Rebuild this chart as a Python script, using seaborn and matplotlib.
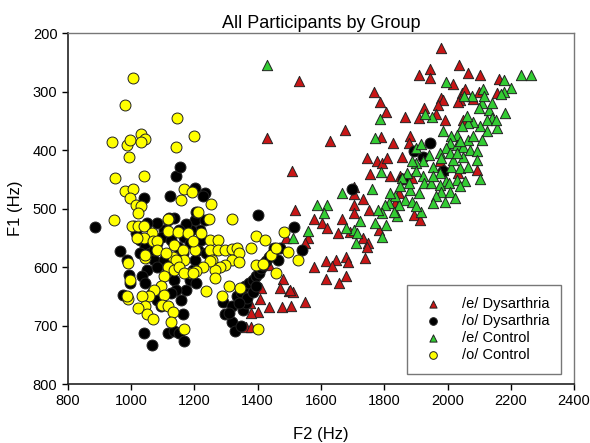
import numpy as np
import pandas as pd
import matplotlib
matplotlib.use("Agg")
import matplotlib.pyplot as plt
import seaborn as sns

# /e/ Dysarthria (F2, F1)
e_dys_f2 = [1980, 2037, 1946, 2066, 2104, 1910, 1945, 2163, 2018, 1980, 2045, 2039, 2082, 2157,
            2098, 2055, 1986, 1969, 1926, 1964, 1991, 2050, 1768, 1787, 1805, 1867, 1910, 1531,
            1429, 1629, 1677, 1789, 1827, 1883, 1878, 1857, 1744, 1776, 1794, 1810, 1755, 1819,
            1851, 1889, 2034, 2093, 1975, 1986, 1508, 1706, 1734, 1706, 1706, 1751, 1668, 1518,
            1579, 1604, 1620, 1655, 1693, 1733, 1749, 1744, 1558, 1550, 1491, 1617, 1648, 1680,
            1687, 1636, 1740, 1579, 1617, 1680, 1657, 1894, 1912, 1833, 1835, 1783, 1480, 1470,
            1500, 1512, 1548, 1437, 1478, 1504, 1401, 1378, 1375, 1362, 1378, 1437, 1410, 1502,
            1408, 2034, 1846, 1706]
e_dys_f1 = [225, 254, 261, 268, 271, 272, 276, 278, 287, 310, 302, 315, 313, 302,
            300, 296, 314, 322, 328, 338, 348, 348, 300, 317, 335, 343, 345, 282,
            380, 384, 366, 378, 387, 376, 388, 411, 414, 419, 422, 414, 441, 444,
            445, 448, 439, 434, 419, 434, 435, 463, 483, 494, 508, 503, 518, 503,
            518, 525, 533, 541, 540, 550, 558, 565, 550, 559, 550, 589, 587, 583,
            591, 598, 584, 600, 620, 616, 627, 510, 519, 490, 505, 536, 620, 636,
            640, 643, 659, 668, 668, 667, 676, 679, 662, 703, 703, 596, 636, 639,
            655, 317, 473, 475]

# /o/ Dysarthria
o_dys_f2 = [887, 964, 988, 994, 973, 997, 1040, 1010, 1016, 1027, 1045, 1061, 1072, 1050,
            1034, 1045, 1066, 1082, 1093, 1040, 1066, 1115, 1136, 1152, 1168, 1163, 1158, 1174,
            1185, 1195, 1201, 1211, 1222, 1217, 1201, 1206, 1233, 1228, 1201, 1123, 1142, 1155,
            1115, 1104, 1099, 1126, 1147, 1163, 1082, 1072, 1136, 1142, 1126, 1115, 1104, 1082,
            1168, 1185, 1190, 1172, 1152, 1136, 1120, 1289, 1297, 1319, 1328, 1346, 1319, 1335,
            1346, 1360, 1373, 1384, 1394, 1405, 1410, 1418, 1426, 1437, 1448, 1464, 1470, 1453,
            1539, 1516, 1400, 1353, 1362, 1367, 1340, 1308, 1384, 1394, 1945, 1894, 1921, 1859,
            1697, 1986, 1082, 1050, 1029, 1233, 1238, 1206]
o_dys_f1 = [531, 573, 587, 613, 647, 627, 482, 530, 542, 553, 565, 576, 587, 605,
            616, 627, 644, 656, 667, 713, 734, 713, 710, 713, 727, 681, 656, 639,
            622, 605, 587, 570, 553, 536, 519, 505, 473, 479, 465, 478, 445, 428,
            519, 536, 548, 553, 565, 576, 559, 570, 622, 639, 644, 605, 587, 599,
            548, 559, 536, 526, 536, 516, 516, 659, 681, 693, 710, 701, 667, 650,
            642, 633, 627, 622, 616, 610, 602, 596, 590, 582, 576, 587, 567, 567,
            571, 531, 510, 674, 662, 653, 662, 679, 642, 633, 388, 402, 411, 449,
            467, 436, 525, 525, 576, 519, 576, 627]

# /e/ Control
e_con_f2 = [1428, 1994, 2177, 2233, 2265, 2200, 2179, 2168, 2112, 2077, 2053, 2109, 2098, 2131,
            2141, 2181, 2157, 2125, 2104, 2082, 2066, 2045, 2029, 2012, 1986, 2007, 2029, 2050,
            2072, 2093, 2109, 2066, 1996, 1975, 1942, 1921, 1900, 1953, 1975, 2012, 2039, 2066,
            1996, 2029, 2055, 2104, 1921, 1900, 1873, 1857, 1926, 1948, 1975, 2004, 2039, 1980,
            2007, 1964, 1991, 2023, 1953, 1910, 1883, 1867, 1846, 1835, 1814, 1889, 1916, 1900,
            1840, 1830, 1819, 1801, 1792, 1781, 1771, 1794, 1805, 1787, 1771, 1789, 1760, 1722,
            1706, 1679, 1715, 1711, 1665, 1588, 1620, 1609, 1558, 1512, 1951, 1929, 1900, 1916,
            2061, 2082, 2039, 2093, 2050, 2018, 1980, 2007, 2125, 2152, 2141, 2114, 2029, 1953,
            1889, 1878, 1851]
e_con_f1 = [255, 284, 280, 272, 272, 294, 300, 304, 296, 307, 308, 320, 328, 331,
            345, 337, 362, 368, 359, 351, 354, 359, 374, 376, 368, 388, 391, 394,
            399, 402, 382, 382, 396, 405, 408, 419, 422, 428, 439, 428, 431, 428,
            453, 451, 453, 449, 445, 436, 439, 448, 456, 456, 459, 456, 462, 471,
            471, 479, 488, 482, 491, 473, 468, 485, 493, 479, 490, 488, 505, 496,
            513, 505, 473, 493, 508, 502, 525, 548, 528, 347, 380, 438, 467, 521,
            536, 533, 541, 559, 473, 493, 493, 508, 538, 550, 343, 338, 396, 390,
            342, 376, 385, 416, 411, 416, 414, 405, 348, 348, 320, 308, 405, 445,
            419, 456, 462]

# /o/ Control
o_con_f2 = [1006, 980, 1146, 1199, 940, 988, 997, 1032, 1045, 1031, 1143, 994, 1042, 950,
            981, 1007, 997, 1168, 1193, 1158, 1252, 1212, 1015, 1031, 1021, 946, 1115, 1246,
            1319, 1002, 1023, 1042, 1066, 1040, 1018, 1069, 1082, 1082, 1115, 1147, 1179, 1136,
            1131, 1163, 1201, 1195, 1222, 1249, 1274, 1249, 1255, 1276, 1298, 1319, 1335, 1340,
            1319, 1298, 1281, 1265, 1249, 1228, 1206, 1185, 1168, 1142, 1115, 1104, 1093, 1104,
            1072, 1056, 1034, 1045, 1023, 1050, 1069, 1099, 1115, 1133, 1126, 1168, 991, 986,
            997, 991, 1045, 1045, 1109, 1136, 1152, 1168, 1195, 1265, 1238, 1287, 1308, 1340,
            1378, 1394, 1423, 1394, 1416, 1441, 1459, 1457, 1497, 1527, 1483, 1344, 1402]
o_con_f1 = [277, 323, 345, 375, 386, 391, 382, 372, 381, 386, 394, 412, 444, 447,
            469, 466, 482, 467, 472, 485, 492, 506, 494, 496, 508, 519, 517, 518,
            517, 530, 529, 529, 542, 550, 550, 556, 556, 570, 539, 540, 542, 562,
            582, 570, 570, 556, 542, 553, 553, 570, 587, 570, 570, 569, 567, 576,
            587, 596, 599, 605, 590, 599, 607, 610, 587, 587, 599, 616, 633, 647,
            639, 650, 650, 667, 670, 681, 689, 664, 667, 677, 693, 705, 655, 650,
            622, 593, 585, 579, 576, 605, 599, 610, 610, 619, 640, 650, 633, 591,
            567, 547, 553, 596, 595, 579, 567, 610, 574, 588, 540, 636, 706]

groups = ["/e/ Dysarthria", "/o/ Dysarthria", "/e/ Control", "/o/ Control"]
colors = ["#c81616", "#000000", "#33cc33", "#ffff00"]
markers = ["^", "o", "^", "o"]

df = pd.concat([
    pd.DataFrame({"F2": e_dys_f2, "F1": e_dys_f1, "group": groups[0]}),
    pd.DataFrame({"F2": o_dys_f2, "F1": o_dys_f1, "group": groups[1]}),
    pd.DataFrame({"F2": e_con_f2, "F1": e_con_f1, "group": groups[2]}),
    pd.DataFrame({"F2": o_con_f2, "F1": o_con_f1, "group": groups[3]}),
], ignore_index=True)

sns.set_style("ticks")
plt.rcParams["font.family"] = ["Liberation Sans", "DejaVu Sans"]
plt.rcParams["text.color"] = "black"
plt.rcParams["axes.labelcolor"] = "black"
plt.rcParams["xtick.color"] = "black"
plt.rcParams["ytick.color"] = "black"

fig, ax = plt.subplots(figsize=(5.9, 4.43), dpi=100)
fig.subplots_adjust(left=0.115, right=0.973, top=0.925, bottom=0.133)

for g, c, m in zip(groups, colors, markers):
    sub = df[df["group"] == g]
    sns.scatterplot(data=sub, x="F2", y="F1", ax=ax, color=c, marker=m,
                    s=55 if m == "^" else 62, edgecolor="#222222", linewidth=0.7,
                    label=g, zorder=3)

ax.set_xlim(800, 2400)
ax.set_ylim(800, 200)
ax.set_xticks(np.arange(800, 2401, 200))
ax.set_yticks(np.arange(200, 801, 100))
ax.tick_params(labelsize=10.5, length=4, width=1, direction="out", top=False, right=False)
ax.set_xlabel("F2 (Hz)", fontsize=12, labelpad=13)
ax.set_ylabel("F1 (Hz)", fontsize=12, labelpad=7)
ax.set_title("All Participants by Group", fontsize=13, pad=4)

for side in ["left", "bottom"]:
    ax.spines[side].set_color("#222222")
    ax.spines[side].set_linewidth(1.2)
for side in ["top", "right"]:
    ax.spines[side].set_visible(True)
    ax.spines[side].set_color("#777777")
    ax.spines[side].set_linewidth(1.0)

leg = ax.legend(loc="lower right", bbox_to_anchor=(0.975, 0.03), fontsize=10.5,
                frameon=True, fancybox=False, edgecolor="#555555",
                markerscale=0.7, handletextpad=1.0, borderpad=0.8, labelspacing=0.2,
                borderaxespad=0)
leg.get_frame().set_linewidth(1.0)

plt.savefig("out.png", dpi=100)
